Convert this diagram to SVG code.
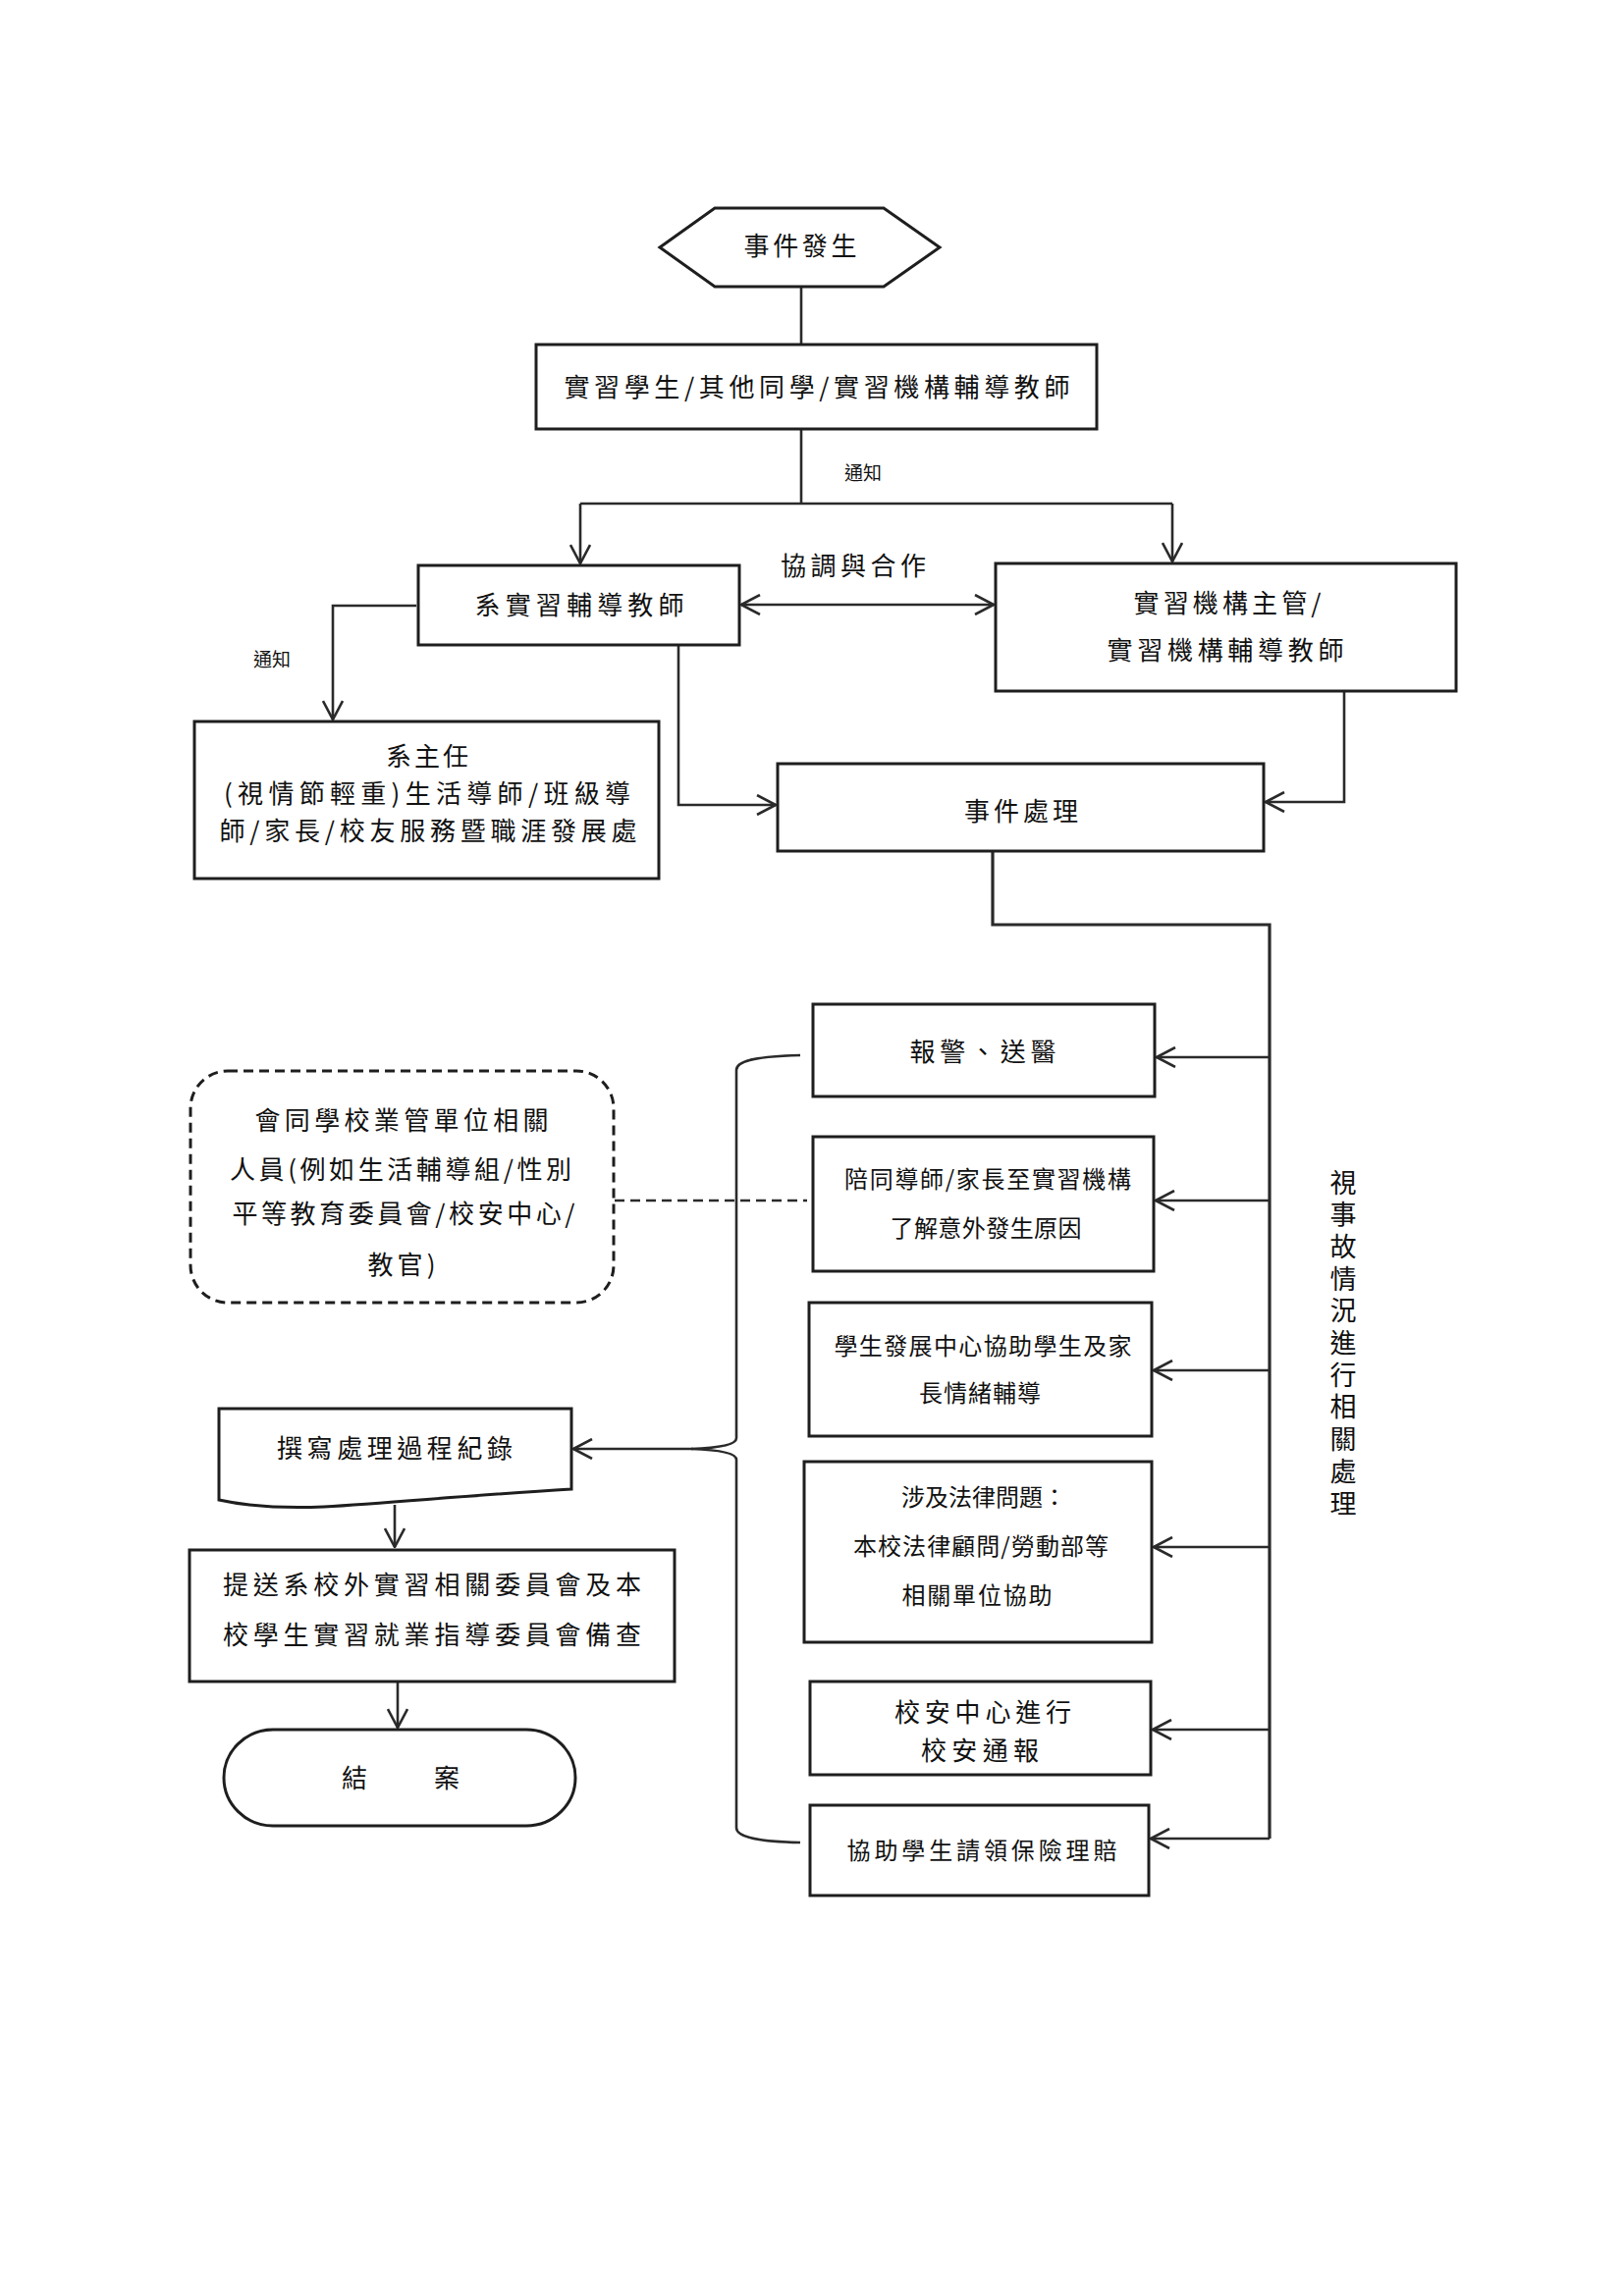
<svg xmlns="http://www.w3.org/2000/svg" width="1654" height="2339" viewBox="0 0 1654 2339">
<style>
.bx{fill:#fff;stroke:#1e1e1e;stroke-width:3}
.ln{fill:none;stroke:#2a2a2a;stroke-width:2.6}
.t{font-family:"Noto Sans CJK TC","Noto Sans CJK SC",sans-serif;font-size:26px;fill:#111;text-anchor:middle;dominant-baseline:central}
.s{font-size:24px}
.sm{font-size:19px}
</style>
<defs>
<marker id="ah" viewBox="0 0 22 22" refX="21" refY="11" markerWidth="22" markerHeight="22" markerUnits="userSpaceOnUse" orient="auto-start-reverse">
<path d="M2,1 L21,11 L2,21" fill="none" stroke="#2a2a2a" stroke-width="2.6"/>
</marker>
</defs>
<rect width="1654" height="2339" fill="#fff"/>

<g id="connectors">
<path class="ln" d="M816,292 V351"/>
<path class="ln" d="M816,437 V513"/>
<path class="ln" d="M591,513 H1194"/>
<path class="ln" d="M591,513 V574" marker-end="url(#ah)"/>
<path class="ln" d="M1194,513 V572" marker-end="url(#ah)"/>
<path class="ln" d="M755,616 H1012" marker-start="url(#ah)" marker-end="url(#ah)"/>
<path class="ln" d="M424,617 H339 V733" marker-end="url(#ah)"/>
<path class="ln" d="M691,658 V820 H790" marker-end="url(#ah)"/>
<path class="ln" d="M1369,704 V817 H1289" marker-end="url(#ah)"/>
<path class="ln" d="M1011,867 V942 H1293 V1873" style="stroke-width:3.2"/>
<path class="ln" d="M1293,1077 H1178" marker-end="url(#ah)"/>
<path class="ln" d="M1293,1223 H1177" marker-end="url(#ah)"/>
<path class="ln" d="M1293,1396 H1175" marker-end="url(#ah)"/>
<path class="ln" d="M1293,1576 H1175" marker-end="url(#ah)"/>
<path class="ln" d="M1293,1762 H1174" marker-end="url(#ah)"/>
<path class="ln" d="M1293,1873 H1172" marker-end="url(#ah)"/>
<path class="ln" d="M626,1223 H822" stroke-dasharray="10,6"/>
<path class="ln" d="M815,1075 C775,1076 750,1080 750,1090 L750,1465 C750,1472 732,1475 704,1476 C732,1477 750,1480 750,1487 L750,1862 C750,1872 775,1876 815,1877"/>
<path class="ln" d="M706,1476 H584" marker-end="url(#ah)"/>
<path class="ln" d="M402,1533 V1576" marker-end="url(#ah)"/>
<path class="ln" d="M405,1713 V1760" marker-end="url(#ah)"/>
</g>

<g id="n-start">
<polygon class="bx" points="672,252 728,212 900,212 957,252 900,292 728,292"/>
<text class="t" x="815" y="248" textLength="115">事件發生</text>
</g>

<g id="n-reporters">
<rect class="bx" x="546" y="351" width="571" height="86"/>
<text class="t" x="832" y="392" textLength="515">實習學生/其他同學/實習機構輔導教師</text>
</g>

<g id="lbl-notify1"><text class="t sm" x="879" y="480">通知</text></g>
<g id="lbl-coop"><text class="t" x="869" y="574" textLength="148">協調與合作</text></g>
<g id="lbl-notify2"><text class="t sm" x="277" y="670">通知</text></g>

<g id="n-dept-teacher">
<rect class="bx" x="426" y="576" width="327" height="81"/>
<text class="t" x="590" y="614" textLength="213">系實習輔導教師</text>
</g>

<g id="n-org">
<rect class="bx" x="1014" y="574" width="469" height="130"/>
<text class="t" x="1250" y="612" textLength="191">實習機構主管/</text>
<text class="t" x="1248" y="660" textLength="241">實習機構輔導教師</text>
</g>

<g id="n-chair">
<rect class="bx" x="198" y="735" width="473" height="160"/>
<text class="t" x="435" y="768" textLength="84">系主任</text>
<text class="t" x="435" y="806" textLength="414">(視情節輕重)生活導師/班級導</text>
<text class="t" x="436" y="844" textLength="425">師/家長/校友服務暨職涯發展處</text>
</g>

<g id="n-handle">
<rect class="bx" x="792" y="778" width="495" height="89"/>
<text class="t" x="1040" y="824" textLength="116">事件處理</text>
</g>

<g id="n-police">
<rect class="bx" x="828" y="1023" width="348" height="94"/>
<text class="t" x="1001" y="1069" textLength="149">報警、送醫</text>
</g>

<g id="n-accompany">
<rect class="bx" x="828" y="1158" width="347" height="137"/>
<text class="t s" x="1006" y="1199" textLength="292">陪同導師/家長至實習機構</text>
<text class="t s" x="1004" y="1249" textLength="195">了解意外發生原因</text>
</g>

<g id="n-counsel">
<rect class="bx" x="824" y="1327" width="349" height="136"/>
<text class="t s" x="1001" y="1369" textLength="303">學生發展中心協助學生及家</text>
<text class="t s" x="998" y="1417" textLength="124">長情緒輔導</text>
</g>

<g id="n-legal">
<rect class="bx" x="819" y="1489" width="354" height="184"/>
<text class="t s" x="1002" y="1523">涉及法律問題：</text>
<text class="t s" x="999" y="1573" textLength="260">本校法律顧問/勞動部等</text>
<text class="t s" x="995" y="1623" textLength="153">相關單位協助</text>
</g>

<g id="n-safety">
<rect class="bx" x="825" y="1713" width="347" height="95"/>
<text class="t" x="1001" y="1742" textLength="180">校安中心進行</text>
<text class="t" x="998" y="1781" textLength="120">校安通報</text>
</g>

<g id="n-insurance">
<rect class="bx" x="825" y="1839" width="345" height="92"/>
<text class="t s" x="1000" y="1883" textLength="275">協助學生請領保險理賠</text>
</g>

<g id="n-units">
<rect class="bx" x="194" y="1091" width="431" height="236" rx="38" ry="38" stroke-dasharray="10,6"/>
<text class="t" x="409" y="1139" textLength="299">會同學校業管單位相關</text>
<text class="t" x="408" y="1189" textLength="348">人員(例如生活輔導組/性別</text>
<text class="t" x="411" y="1234" textLength="349">平等教育委員會/校安中心/</text>
<text class="t" x="409" y="1286" textLength="69">教官)</text>
</g>

<g id="lbl-side">
<text class="t" style="font-size:27px" x="1368 1368 1368 1368 1368 1368 1368 1368 1368 1368 1368" y="1203 1235.7 1268.4 1301.1 1333.8 1366.5 1399.2 1431.9 1464.6 1497.3 1530">視事故情況進行相關處理</text>
</g>

<g id="n-record">
<path class="bx" d="M223,1435 H582 V1517 C480,1523 400,1531 330,1535 C280,1537 250,1534 223,1528 Z"/>
<text class="t" x="402" y="1473" textLength="240">撰寫處理過程紀錄</text>
</g>

<g id="n-submit">
<rect class="bx" x="193" y="1579" width="494" height="134"/>
<text class="t" x="440" y="1612" textLength="426">提送系校外實習相關委員會及本</text>
<text class="t" x="440" y="1663" textLength="426">校學生實習就業指導委員會備查</text>
</g>

<g id="n-end">
<rect class="bx" x="228" y="1762" width="358" height="98" rx="50" ry="49"/>
<text class="t" x="361 455" y="1809">結案</text>
</g>
</svg>
